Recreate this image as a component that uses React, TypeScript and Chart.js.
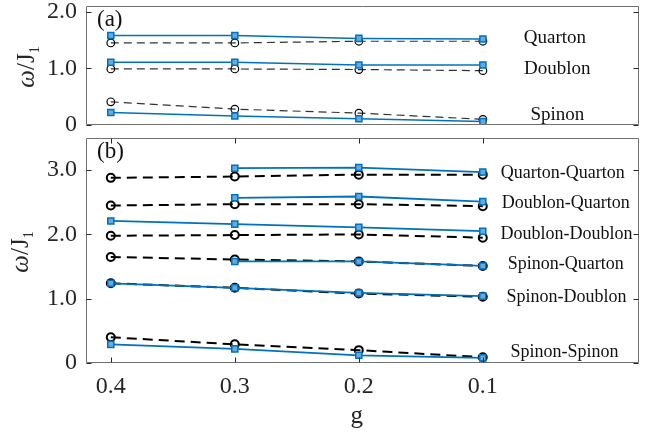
import React, { useEffect, useRef } from "react";
import { Chart, registerables } from "chart.js";

Chart.register(...registerables);

// ---------- data ----------
const gValues = [0.4, 0.3, 0.2, 0.1];
const xTickValues = [0.4, 0.3, 0.2, 0.1];
const yTicksA = [0, 1, 2];
const yTicksB = [0, 1, 2, 3];

// Panel (a)
const quartonBlue = [1.58, 1.58, 1.53, 1.52];
const quartonBlack = [1.45, 1.45, 1.48, 1.48];
const doublonBlue = [1.11, 1.11, 1.06, 1.06];
const doublonBlack = [0.99, 0.99, 0.98, 0.96];
const spinonBlue = [0.22, 0.16, 0.11, 0.06];
const spinonBlack = [0.41, 0.28, 0.21, 0.1];

// Panel (b)
const qqBlue = [null, 3.03, 3.04, 2.97];
const qqBlack = [2.88, 2.9, 2.93, 2.93];
const dqBlue = [null, 2.57, 2.59, 2.51];
const dqBlack = [2.45, 2.47, 2.47, 2.44];
const ddBlue = [2.21, 2.16, 2.11, 2.05];
const ddBlack = [1.98, 1.99, 2.0, 1.95];
const sqBlue = [null, 1.58, 1.58, 1.51];
const sqBlack = [1.65, 1.61, 1.58, 1.51];
const sdBlue = [1.24, 1.17, 1.09, 1.04];
const sdBlack = [1.24, 1.17, 1.08, 1.03];
const ssBlue = [0.29, 0.22, 0.12, 0.08];
const ssBlack = [0.4, 0.29, 0.2, 0.09];

// Text annotations (anchored in data coordinates)
const labelsA = ["Quarton", "Doublon", "Spinon"];
const labelGA = [0.042, 0.04, 0.04];
const labelYA = [1.53, 0.99, 0.18];

const labelsB = [
  "Quarton-Quarton",
  "Doublon-Quarton",
  "Doublon-Doublon",
  "Spinon-Quarton",
  "Spinon-Doublon",
  "Spinon-Spinon",
];
const labelGB = [0.0355, 0.033, 0.0325, 0.033, 0.0325, 0.034];
const labelYB = [2.95, 2.49, 2.01, 1.53, 1.03, 0.17];

// ---------- styling helpers ----------
const FONT = '"Liberation Serif", "Times New Roman", serif';
const BLUE = "#0072BD";

function pts(vals: (number | null)[]) {
  return gValues.map((g, i) => ({ x: g, y: vals[i] }));
}

function blueDs(vals: (number | null)[], lw: number) {
  return {
    data: pts(vals),
    borderColor: BLUE,
    borderWidth: lw,
    pointStyle: "rect",
    pointRadius: 4.3,
    pointHoverRadius: 4.3,
    pointBorderColor: BLUE,
    pointBackgroundColor: "#6aa9dc",
    pointBorderWidth: 1.5,
    fill: false,
    tension: 0,
    spanGaps: false,
  };
}

function blackDs(vals: (number | null)[], lw: number, dash: number[], color: string, pr: number, pbw: number) {
  return {
    data: pts(vals),
    borderColor: color,
    borderWidth: lw,
    borderDash: dash,
    pointStyle: "circle",
    pointRadius: pr,
    pointHoverRadius: pr,
    pointBorderColor: "#000",
    pointBackgroundColor: "rgba(0,0,0,0)",
    pointBorderWidth: pbw,
    fill: false,
    tension: 0,
    spanGaps: false,
  };
}

type PanelCfg = {
  panelLabel: string;
  panelLabelX: number;
  panelLabelY: number;
  titleX: number;
  titleCY: number;
  xTicksOnFrame: boolean;
  annFont: number;
  labels: string[];
  labelG: number[];
  labelY: number[];
  yTicks: number[];
  drawG: boolean;
};

function makePlugin(cfg: PanelCfg) {
  return {
    id: "panelDecor",
    afterDraw(chart: any) {
      const { ctx, chartArea, scales } = chart;
      const { left, right, top, bottom } = chartArea;
      const x = scales.x;
      const y = scales.y;
      ctx.save();
      // frame
      ctx.strokeStyle = "#707070";
      ctx.lineWidth = 1;
      const L = Math.round(left) + 0.5;
      const R = Math.round(right) - 0.5;
      const T = Math.round(top) + 0.5;
      const B = Math.round(bottom) - 0.5;
      ctx.beginPath();
      ctx.rect(L, T, R - L, B - T);
      ctx.stroke();
      // inward ticks
      ctx.strokeStyle = "#262626";
      ctx.beginPath();
      cfg.yTicks.forEach((v) => {
        const py = Math.round(y.getPixelForValue(v)) + 0.5;
        ctx.moveTo(L, py);
        ctx.lineTo(L + 5, py);
        ctx.moveTo(R, py);
        ctx.lineTo(R - 5, py);
      });
      if (cfg.xTicksOnFrame) {
        xTickValues.forEach((v) => {
          const px = Math.round(x.getPixelForValue(v)) + 0.5;
          ctx.moveTo(px, B);
          ctx.lineTo(px, B - 5);
          ctx.moveTo(px, T);
          ctx.lineTo(px, T + 5);
        });
      }
      ctx.stroke();

      // annotations
      ctx.fillStyle = "#111";
      ctx.font = `${cfg.annFont}px ${FONT}`;
      ctx.textAlign = "center";
      ctx.textBaseline = "middle";
      cfg.labels.forEach((t, i) => {
        ctx.fillText(t, x.getPixelForValue(cfg.labelG[i]), y.getPixelForValue(cfg.labelY[i]));
      });

      // panel label
      ctx.font = `23px ${FONT}`;
      ctx.textAlign = "left";
      ctx.textBaseline = "alphabetic";
      ctx.fillStyle = "#111";
      ctx.fillText(cfg.panelLabel, cfg.panelLabelX, cfg.panelLabelY);

      // y title: ω/J₁ rotated
      ctx.save();
      ctx.translate(cfg.titleX, cfg.titleCY);
      ctx.rotate(-Math.PI / 2);
      ctx.fillStyle = "#262626";
      const fMain = `25px ${FONT}`;
      const fIt = `italic 25px ${FONT}`;
      const fSub = `14px ${FONT}`;
      ctx.font = fIt;
      const w1 = ctx.measureText("ω").width;
      ctx.font = fMain;
      const w2 = ctx.measureText("/J").width;
      ctx.font = fSub;
      const w3 = ctx.measureText("1").width;
      let sx = -(w1 + w2 + w3) / 2;
      ctx.textAlign = "left";
      ctx.textBaseline = "alphabetic";
      ctx.font = fIt;
      ctx.fillText("ω", sx, 0);
      sx += w1;
      ctx.font = fMain;
      ctx.fillText("/J", sx, 0);
      sx += w2;
      ctx.font = fSub;
      ctx.fillText("1", sx, 5);
      ctx.restore();

      // x title
      if (cfg.drawG) {
        ctx.font = `25px ${FONT}`;
        ctx.textAlign = "center";
        ctx.textBaseline = "alphabetic";
        ctx.fillStyle = "#262626";
        ctx.fillText("g", x.getPixelForValue(0.2) - 2, 293);
      }
      ctx.restore();
    },
  };
}

function baseOptions(opts: {
  yMax: number;
  yTicks: number[];
  padTop: number;
  xHeight: number;
  showXLabels: boolean;
}) {
  return {
    animation: false,
    responsive: false,
    maintainAspectRatio: false,
    events: [],
    layout: { padding: { top: opts.padTop, left: 0, right: 1, bottom: 0 } },
    plugins: { legend: { display: false }, tooltip: { enabled: false } },
    scales: {
      x: {
        type: "linear",
        reverse: true,
        min: -0.026,
        max: 0.42,
        grid: { display: false, drawTicks: false },
        border: { display: false },
        afterBuildTicks: (s: any) => {
          s.ticks = xTickValues.map((v) => ({ value: v }));
        },
        afterFit: (s: any) => {
          s.height = opts.xHeight;
          s.paddingLeft = 0;
          s.paddingRight = 0;
          s.paddingTop = 0;
          s.paddingBottom = 0;
        },
        ticks: {
          display: opts.showXLabels,
          padding: 9,
          maxRotation: 0,
          autoSkip: false,
          color: "#262626",
          font: { family: FONT, size: 24 },
          callback: (v: number) => Number(v).toFixed(1),
        },
      },
      y: {
        type: "linear",
        min: 0,
        max: opts.yMax,
        grid: { display: false, drawTicks: false },
        border: { display: false },
        afterBuildTicks: (s: any) => {
          s.ticks = opts.yTicks.map((v) => ({ value: v }));
        },
        afterFit: (s: any) => {
          s.width = 86;
          s.paddingTop = 0;
          s.paddingBottom = 0;
          s.paddingLeft = 0;
          s.paddingRight = 0;
        },
        ticks: {
          padding: 9,
          autoSkip: false,
          color: "#262626",
          font: { family: FONT, size: 24 },
          callback: (v: number) => (Number(v) === 0 ? "0" : Number(v).toFixed(1)),
        },
      },
    },
  };
}

function PanelA() {
  const ref = useRef<HTMLCanvasElement>(null);
  useEffect(() => {
    if (!ref.current) return;
    const dashA = [8, 5];
    const chart = new Chart(ref.current, {
      type: "line",
      data: {
        datasets: [
          blueDs(quartonBlue, 1.5),
          blueDs(doublonBlue, 1.5),
          blueDs(spinonBlue, 1.5),
          blackDs(quartonBlack, 1.2, dashA, "#333", 3.8, 1.2),
          blackDs(doublonBlack, 1.2, dashA, "#333", 3.8, 1.2),
          blackDs(spinonBlack, 1.2, dashA, "#333", 3.8, 1.2),
        ] as any,
      },
      options: baseOptions({ yMax: 2.106, yTicks: yTicksA, padTop: 4, xHeight: 7, showXLabels: false }) as any,
      plugins: [
        makePlugin({
          panelLabel: "(a)",
          panelLabelX: 97,
          panelLabelY: 26,
          titleX: 34,
          titleCY: 67,
          xTicksOnFrame: false,
          annFont: 19,
          labels: labelsA,
          labelG: labelGA,
          labelY: labelYA,
          yTicks: yTicksA,
          drawG: false,
        }),
      ],
    });
    return () => chart.destroy();
  }, []);
  return <canvas ref={ref} width={645} height={132} style={{ display: "block", position: "absolute", left: 0, top: 0 }} />;
}

function PanelB() {
  const ref = useRef<HTMLCanvasElement>(null);
  useEffect(() => {
    if (!ref.current) return;
    const dashB = [10, 6];
    const chart = new Chart(ref.current, {
      type: "line",
      data: {
        datasets: [
          blueDs(qqBlue, 1.8),
          blueDs(dqBlue, 1.8),
          blueDs(ddBlue, 1.8),
          blueDs(sqBlue, 1.8),
          blueDs(sdBlue, 1.8),
          blueDs(ssBlue, 1.8),
          blackDs(qqBlack, 2, dashB, "#000", 4, 2),
          blackDs(dqBlack, 2, dashB, "#000", 4, 2),
          blackDs(ddBlack, 2, dashB, "#000", 4, 2),
          blackDs(sqBlack, 2, dashB, "#000", 4, 2),
          blackDs(sdBlack, 2, dashB, "#000", 4, 2),
          blackDs(ssBlack, 2, dashB, "#000", 4, 2),
        ] as any,
      },
      options: baseOptions({ yMax: 3.5, yTicks: yTicksB, padTop: 8, xHeight: 74, showXLabels: true }) as any,
      plugins: [
        makePlugin({
          panelLabel: "(b)",
          panelLabelX: 97,
          panelLabelY: 27.5,
          titleX: 28,
          titleCY: 122,
          xTicksOnFrame: true,
          annFont: 18,
          labels: labelsB,
          labelG: labelGB,
          labelY: labelYB,
          yTicks: yTicksB,
          drawG: true,
        }),
      ],
    });
    return () => chart.destroy();
  }, []);
  return <canvas ref={ref} width={645} height={307} style={{ display: "block", position: "absolute", left: 0, top: 130 }} />;
}

export default function App() {
  return (
    <div style={{ position: "absolute", left: 0, top: 0, width: 645, height: 437, background: "#fff", overflow: "hidden" }}>
      <PanelA />
      <PanelB />
    </div>
  );
}
